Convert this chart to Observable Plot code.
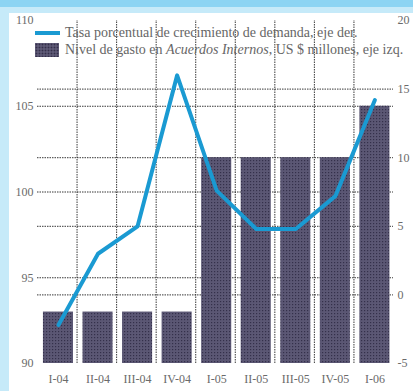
<!DOCTYPE html>
<html>
<head>
<meta charset="utf-8">
<script src="https://cdn.jsdelivr.net/npm/d3@7"></script>
<script src="https://cdn.jsdelivr.net/npm/@observablehq/plot@0.6"></script>
<style>
  html, body { margin: 0; padding: 0; background: #fff; }
  #wrap { position: relative; width: 413px; height: 391px; overflow: hidden; background: #fff; }
  .band-top { position: absolute; left: 0; top: 0; width: 413px; height: 7px; background: #8cd4f3; }
  .band-top2 { position: absolute; left: 0; top: 7px; width: 413px; height: 6px; background: #c6eaf9; }
  .band-left { position: absolute; left: 0; top: 7px; width: 9px; height: 384px; background: #c6eaf9; }
  #chart { position: absolute; left: 0; top: 0; }
  #chart svg, #chart svg text { font-family: "Liberation Serif", serif !important; }
  .legend { position: absolute; left: 35px; font-family: "Liberation Serif", serif; font-size: 14px;
            color: #666; white-space: nowrap; display: flex; align-items: center; }
  .sw-line { width: 25px; height: 3.5px; background: #1a9ad2; margin-right: 5px; }
  .sw-bar { width: 24px; height: 14px; margin-right: 6px; background-color: #5d5975;
            background-image: radial-gradient(circle, #34304a 0.8px, transparent 1.1px);
            background-size: 3px 3px; }
</style>
</head>
<body>
<div id="wrap">
  <div class="band-top"></div>
  <div class="band-top2"></div>
  <div class="band-left"></div>
  <div id="chart"></div>
  <div class="legend" style="top:25px;"><span class="sw-line"></span>Tasa porcentual de crecimiento de demanda, eje der.</div>
  <div class="legend" style="top:42px;"><span class="sw-bar"></span><span>Nivel de gasto en <i>Acuerdos Internos</i>, US $ millones, eje izq.</span></div>
</div>
<script>
// Quarters on the horizontal axis
const quarters = ["I-04", "II-04", "III-04", "IV-04", "I-05", "II-05", "III-05", "IV-05", "I-06"];
// Spending level, US$ millions (left axis)
const spending = [93, 93, 93, 93, 102, 102, 102, 102, 105];
// Demand growth rate, percent (right axis)
const growth = [-2.2, 3, 5, 16, 7.6, 4.8, 4.8, 7.2, 14.2];
// Axis ticks
const leftTicks = [90, 95, 100, 105, 110];
const rightTicks = [-5, 0, 5, 10, 15, 20];

// Right axis (-5..20) shares the vertical extent of the left axis (90..110)
const toLeft = v => 90 + (v + 5) * 0.8;
const fromLeft = y => (y - 90) / 0.8 - 5;

const serif = "Liberation Serif";
const grid = {stroke: "#222", strokeOpacity: 0.9, strokeDasharray: "1.5,1", strokeWidth: 1};
const idx = d3.range(quarters.length);

const plot = Plot.plot({
  width: 413,
  height: 391,
  marginLeft: 37,
  marginRight: 20,
  marginTop: 20,
  marginBottom: 28,
  style: {background: "transparent", fontSize: "12px", color: "#6a6a6a", fontFamily: serif},
  x: {type: "linear", domain: [0, quarters.length], axis: null},
  y: {domain: [90, 110], axis: null},
  marks: [
    Plot.ruleY(leftTicks.filter(t => t > 90 && t < 110), grid),
    Plot.ruleY(rightTicks.filter(t => t > -5 && t < 20).map(toLeft), grid),
    Plot.ruleX(d3.range(1, quarters.length), {...grid, y1: 90, y2: 110}),
    Plot.rectY(idx, {x1: i => i + 0.15, x2: i => i + 0.91, y1: 90, y2: i => spending[i], fill: "url(#dots)"}),
    Plot.line(idx, {x: i => i + 0.53, y: i => toLeft(growth[i]), stroke: "#1a9ad2", strokeWidth: 4, strokeLinejoin: "round"}),
    Plot.axisY(leftTicks, {anchor: "left", tickSize: 0, tickPadding: 4, label: null, fontFamily: serif}),
    Plot.axisY(rightTicks.map(toLeft), {anchor: "right", tickSize: 0, tickPadding: 4, label: null, fontFamily: serif,
      tickFormat: y => String(Math.round(fromLeft(y)))}),
    Plot.axisX(idx.map(i => i + 0.53), {anchor: "bottom", tickSize: 0, tickPadding: 11, label: null, fontFamily: serif,
      tickFormat: x => quarters[Math.floor(x)]})
  ]
});

const ns = "http://www.w3.org/2000/svg";
const defs = document.createElementNS(ns, "defs");
defs.innerHTML = '<pattern id="dots" width="3" height="3" patternUnits="userSpaceOnUse">' +
  '<rect width="3" height="3" fill="#5b5774"/><rect x="1" y="1" width="1.2" height="1.2" fill="#34304a"/></pattern>';
plot.prepend(defs);
document.getElementById("chart").appendChild(plot);
</script>
</body>
</html>
